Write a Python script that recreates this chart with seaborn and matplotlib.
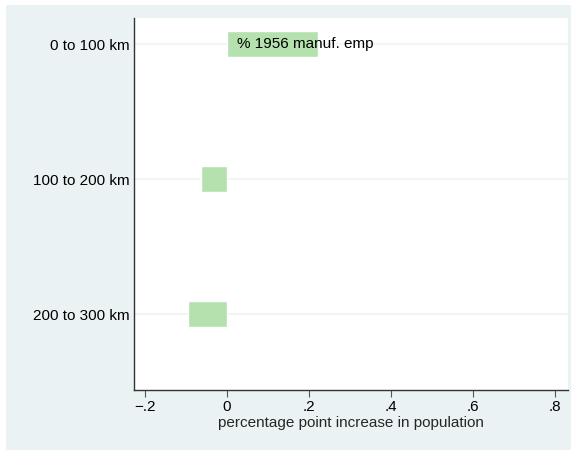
import numpy as np
import pandas as pd
import matplotlib
matplotlib.use('Agg')
import matplotlib.pyplot as plt
from matplotlib.patches import Rectangle
import seaborn as sns

# Veri
distance_bands = ['0 to 100 km', '100 to 200 km', '200 to 300 km']
pop_increase = [0.222, -0.063, -0.095]
bar_label = '% 1956 manuf. emp'
x_ticks = [-0.2, 0, 0.2, 0.4, 0.6, 0.8]
x_tick_labels = ['\u2212.2', '0', '.2', '.4', '.6', '.8']

df = pd.DataFrame({'band': distance_bands, 'value': pop_increase})

sns.set_theme(style='white')
plt.rcParams['font.family'] = ['Liberation Sans', 'DejaVu Sans']

fig = plt.figure(figsize=(5.75, 4.5), dpi=100)
fig.patch.set_facecolor('white')
# Stata tarzı dış arka plan
fig.patches.append(Rectangle((6 / 575, 0), 565 / 575, 445 / 450,
                             transform=fig.transFigure, facecolor='#EAF2F3',
                             edgecolor='none', zorder=-10))

ax = fig.add_axes([134 / 575, 60 / 450, 434 / 575, 372 / 450])
ax.set_facecolor('white')

for i in range(len(distance_bands)):
    ax.axhline(i, color='#EEF3F4', lw=1.2, zorder=0)

sns.barplot(data=df, x='value', y='band', orient='h', color='#B4E1AD',
            saturation=1, width=0.19, ax=ax, zorder=2)

ax.text(0.024, 0, bar_label, va='center', ha='left', fontsize=11,
        color='black', zorder=3)

ax.set_xlim(-0.227, 0.832)
ax.set_ylim(2.563, -0.193)
ax.set_xticks(x_ticks)
ax.set_xticklabels(x_tick_labels, fontsize=11)
ax.set_yticks(range(len(distance_bands)))
ax.set_yticklabels(distance_bands, fontsize=11)
ax.set_xlabel('percentage point increase in population', fontsize=11,
              labelpad=2)
ax.set_ylabel('')

for side in ['top', 'right']:
    ax.spines[side].set_visible(False)
for side in ['left', 'bottom']:
    ax.spines[side].set_color('#333333')
    ax.spines[side].set_linewidth(1.0)
ax.tick_params(axis='x', length=5, width=0.8, color='#555555',
               colors='black', pad=2, bottom=True)
ax.tick_params(axis='y', length=0, pad=3, left=True, colors='black')

fig.savefig('out.png', dpi=100, facecolor=fig.get_facecolor())
